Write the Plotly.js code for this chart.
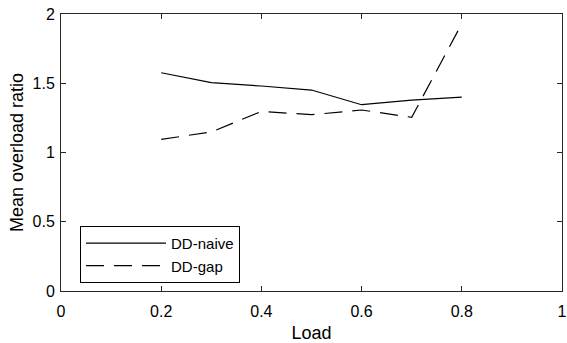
<!DOCTYPE html>
<html>
<head>
<meta charset="utf-8">
<script src="https://cdn.plot.ly/plotly-3.0.1.min.js"></script>
<style>
html,body{margin:0;padding:0;background:#fff;}
#chart{width:567px;height:343px;}
</style>
</head>
<body>
<div id="chart"></div>
<script>
const load = [0.2, 0.3, 0.4, 0.5, 0.6, 0.7, 0.8];
const ddNaive = [1.576, 1.504, 1.48, 1.451, 1.345, 1.378, 1.40];
const ddGap = [1.095, 1.148, 1.297, 1.273, 1.307, 1.254, 1.93];
const seriesNames = ['DD-naive', 'DD-gap'];
const xTicks = [0, 0.2, 0.4, 0.6, 0.8, 1];
const xTickText = ['0', '0.2', '0.4', '0.6', '0.8', '1'];
const yTicks = [0, 0.5, 1, 1.5, 2];
const yTickText = ['0', '0.5', '1', '1.5', '2'];

const font = 'Liberation Sans, Arial, Helvetica, sans-serif';

const traces = [
  {x: load, y: ddNaive, name: seriesNames[0], mode: 'lines',
   line: {color: '#000', width: 1.2, dash: 'solid'}},
  {x: load, y: ddGap, name: seriesNames[1], mode: 'lines',
   line: {color: '#000', width: 1.2, dash: '18px,10px'}}
];

const axisCommon = {
  showgrid: false, zeroline: false, showline: true, linecolor: '#262626', linewidth: 1,
  mirror: 'ticks', ticks: 'inside', ticklen: 5, tickwidth: 1, tickcolor: '#262626',
  tickfont: {family: font, size: 16, color: '#000'}
};

const layout = {
  width: 567, height: 343,
  margin: {l: 61, r: 5, t: 14, b: 52},
  paper_bgcolor: '#fff', plot_bgcolor: '#fff',
  showlegend: true,
  xaxis: Object.assign({}, axisCommon, {
    range: [0, 1], tickmode: 'array', tickvals: xTicks, ticktext: xTickText,
    ticklabelstandoff: 6,
    title: {text: 'Load', font: {family: font, size: 18, color: '#000'}, standoff: 8}
  }),
  yaxis: Object.assign({}, axisCommon, {
    range: [0, 2], tickmode: 'array', tickvals: yTicks, ticktext: yTickText,
    ticklabelstandoff: 2,
    title: {text: 'Mean overload ratio', font: {family: font, size: 18, color: '#000'}, standoff: 4}
  }),
  legend: {
    x: 0.038, y: 0.235, xanchor: 'left', yanchor: 'top',
    bgcolor: '#fff', bordercolor: '#000', borderwidth: 1,
    font: {family: font, size: 15, color: '#000'},
    itemwidth: 80, tracegroupgap: 0
  }
};

Plotly.newPlot('chart', traces, layout, {displayModeBar: false, staticPlot: true});
</script>
</body>
</html>
